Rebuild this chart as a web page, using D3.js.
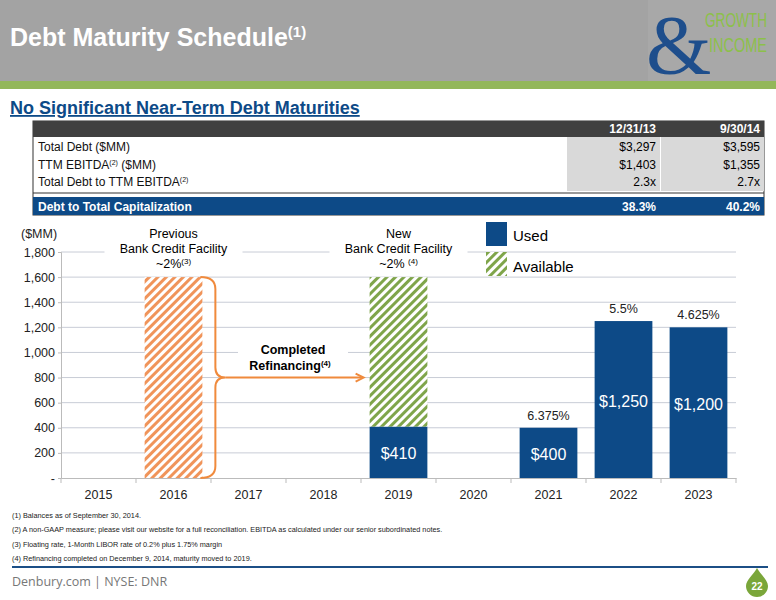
<!DOCTYPE html><html><head><meta charset="utf-8"><script src="https://d3js.org/d3.v7.min.js"></script>
<style>body{margin:0;background:#fff}svg{font-family:"Liberation Sans",Arial,sans-serif}</style></head><body>
<svg id="c" width="776" height="600"></svg>
<script>
const years=["2015","2016","2017","2018","2019","2020","2021","2022","2023"];
const used=[0,0,0,0,410,0,400,1250,1200];
const available=[0,0,0,0,1190,0,0,0,0];
const previousFacility=[0,1600,0,0,0,0,0,0,0];
const usedLabels=["","","","","$410","","$400","$1,250","$1,200"];
const rateLabels=["","","","","","","6.375%","5.5%","4.625%"];
const yTicks=[0,200,400,600,800,1000,1200,1400,1600,1800];
const tableHead=["","12/31/13","9/30/14"];
const tableRows=[["Total Debt ($MM)","$3,297","$3,595"],["TTM EBITDA|(2)| ($MM)","$1,403","$1,355"],["Total Debt to TTM EBITDA|(2)|","2.3x","2.7x"]];
const capRow=["Debt to Total Capitalization","38.3%","40.2%"];
const footnotes=["(1)  Balances as of September 30, 2014.","(2)  A non-GAAP measure; please visit our website for a full reconciliation.  EBITDA as calculated under our senior subordinated notes.","(3)  Floating rate, 1-Month LIBOR rate of 0.2% plus 1.75% margin","(4)  Refinancing completed on December 9, 2014, maturity moved to 2019."];

const svg=d3.select("#c");
const defs=svg.append("defs");
function hatch(id,col){const p=defs.append("pattern").attr("id",id).attr("patternUnits","userSpaceOnUse").attr("width",6).attr("height",6).attr("patternTransform","rotate(45)");
p.append("rect").attr("width",6).attr("height",6).attr("fill","#fff");p.append("rect").attr("width",3).attr("height",6).attr("fill",col);}
hatch("ho","#f0945a");hatch("hg","#7fa54a");
const blue="#0d4a87";
svg.append("rect").attr("width",776).attr("height",81).attr("fill","#a3a3a3");
svg.append("rect").attr("y",81).attr("width",776).attr("height",8).attr("fill","#93b75a");
const t=svg.append("text").attr("x",10).attr("y",46).attr("fill","#fff").attr("font-weight","bold").attr("font-size",25);
t.append("tspan").text("Debt Maturity Schedule");t.append("tspan").attr("dy",-9).attr("font-size",15).text("(1)");
svg.append("rect").attr("x",648).attr("y",0).attr("width",128).attr("height",81).attr("fill","#a8a8a8");
svg.append("text").attr("x",646).attr("y",74).attr("font-family","Liberation Serif,serif").attr("font-size",84).attr("fill","#1e4e8c").text("&");
svg.append("text").attr("x",0).attr("y",0).attr("font-size",13).attr("fill","#8cc04a").attr("textLength",62).attr("lengthAdjust","spacingAndGlyphs").attr("transform","translate(705,27) scale(1,1.5)").text("GROWTH");
svg.append("text").attr("x",0).attr("y",0).attr("font-size",13).attr("fill","#8cc04a").attr("textLength",58).attr("lengthAdjust","spacingAndGlyphs").attr("transform","translate(709,52) scale(1,1.5)").text("INCOME");
svg.append("text").attr("x",10).attr("y",114).attr("fill",blue).attr("font-weight","bold").attr("font-size",18).attr("text-decoration","underline").text("No Significant Near-Term Debt Maturities");
const tx=33,tw=731,c1=567,c2=661;
svg.append("rect").attr("x",tx).attr("y",121).attr("width",tw).attr("height",94).attr("fill","#fff").attr("stroke","#333");
svg.append("rect").attr("x",tx).attr("y",121).attr("width",tw).attr("height",16).attr("fill","#404040");
svg.append("rect").attr("x",c1).attr("y",137).attr("width",c2-c1-1).attr("height",54).attr("fill","#d9d9d9");
svg.append("rect").attr("x",c2).attr("y",137).attr("width",764-c2).attr("height",54).attr("fill","#d9d9d9");
svg.append("line").attr("x1",tx).attr("x2",764).attr("y1",193).attr("y2",193).attr("stroke","#333");
svg.append("rect").attr("x",tx).attr("y",197).attr("width",tw).attr("height",18).attr("fill",blue);
svg.append("text").attr("x",c2-5).attr("y",133).attr("text-anchor","end").attr("fill","#fff").attr("font-weight","bold").attr("font-size",12).text(tableHead[1]);
svg.append("text").attr("x",760).attr("y",133).attr("text-anchor","end").attr("fill","#fff").attr("font-weight","bold").attr("font-size",12).text(tableHead[2]);
tableRows.forEach((r,i)=>{const yy=151+i*17.5;
 const tt=svg.append("text").attr("x",38).attr("y",yy).attr("font-size",12).attr("fill","#111");
 r[0].split("|").forEach((s,j)=>{tt.append("tspan").attr("font-size",j==1?7:12).attr("dy",j==1?-4:(j==2?4:0)).text(s);});
 svg.append("text").attr("x",c2-5).attr("y",yy).attr("text-anchor","end").attr("font-size",12).text(r[1]);
 svg.append("text").attr("x",760).attr("y",yy).attr("text-anchor","end").attr("font-size",12).text(r[2]);});
svg.append("text").attr("x",38).attr("y",211).attr("fill","#fff").attr("font-weight","bold").attr("font-size",12).text(capRow[0]);
svg.append("text").attr("x",c2-5).attr("y",211).attr("text-anchor","end").attr("fill","#fff").attr("font-weight","bold").attr("font-size",12).text(capRow[1]);
svg.append("text").attr("x",760).attr("y",211).attr("text-anchor","end").attr("fill","#fff").attr("font-weight","bold").attr("font-size",12).text(capRow[2]);
const x=d3.scaleBand().domain(years).range([61,736]).paddingInner(0.23).paddingOuter(0.115);
const y=d3.scaleLinear().domain([0,1800]).range([478,252]);
const g=svg.append("g");
yTicks.forEach(v=>{if(v>0)g.append("line").attr("x1",61).attr("x2",736).attr("y1",y(v)).attr("y2",y(v)).attr("stroke","#c8ccd6");});
const ya=svg.append("g").attr("transform","translate(61,0)").call(d3.axisLeft(y).tickValues(yTicks).tickSize(3).tickFormat(v=>v===0?"-":d3.format(",")(v)));
ya.select(".domain").attr("stroke","#bbb");ya.selectAll("line").attr("stroke","#bbb");
ya.selectAll("text").attr("font-size",12.5).attr("fill","#222").attr("font-family","Liberation Sans,Arial");
const xa=svg.append("g").attr("transform","translate(0,478)").call(d3.axisBottom(x).tickSize(0).tickPadding(12));
xa.select(".domain").attr("stroke","#bbb");
xa.selectAll("text").attr("font-size",12.5).attr("fill","#222").attr("font-family","Liberation Sans,Arial");
const bnd=x.step();
years.forEach((yr,i)=>{svg.append("line").attr("x1",x(yr)-bnd*0.115).attr("x2",x(yr)-bnd*0.115).attr("y1",478).attr("y2",483).attr("stroke","#bbb");});
svg.append("line").attr("x1",736).attr("x2",736).attr("y1",478).attr("y2",483).attr("stroke","#bbb");
years.forEach((yr,i)=>{
 if(previousFacility[i])svg.append("rect").attr("x",x(yr)).attr("y",y(previousFacility[i])).attr("width",x.bandwidth()).attr("height",y(0)-y(previousFacility[i])).attr("fill","url(#ho)");
 if(used[i])svg.append("rect").attr("x",x(yr)).attr("y",y(used[i])).attr("width",x.bandwidth()).attr("height",y(0)-y(used[i])).attr("fill",blue);
 if(available[i])svg.append("rect").attr("x",x(yr)).attr("y",y(used[i]+available[i])).attr("width",x.bandwidth()).attr("height",y(used[i])-y(used[i]+available[i])).attr("fill","url(#hg)");
 const cx=x(yr)+x.bandwidth()/2;
 if(usedLabels[i])svg.append("text").attr("x",cx).attr("y",y(used[i]/2)+7).attr("text-anchor","middle").attr("fill","#fff").attr("font-size",16).text(usedLabels[i]);
 if(rateLabels[i])svg.append("text").attr("x",cx).attr("y",y(used[i])-8).attr("text-anchor","middle").attr("fill","#222").attr("font-size",12.5).text(rateLabels[i]);
});
svg.append("text").attr("x",21).attr("y",238).attr("font-size",12.5).attr("fill","#222").text("($MM)");
function ann(yr,lines,sup){const cx=x(yr)+x.bandwidth()/2;
 svg.append("text").attr("x",cx).attr("y",238).attr("text-anchor","middle").attr("font-size",12.5).text(lines[0]);
 const w=lines[1].length*6.6;svg.append("rect").attr("x",cx-w/2-3).attr("y",243).attr("width",w+6).attr("height",14).attr("fill","#fff");
 svg.append("text").attr("x",cx).attr("y",253).attr("text-anchor","middle").attr("font-size",12.5).text(lines[1]);
 const tx=svg.append("text").attr("x",cx).attr("y",268).attr("text-anchor","middle").attr("font-size",12.5);tx.append("tspan").text(lines[2]);tx.append("tspan").attr("dy",-4).attr("font-size",8).text(sup);}
ann("2016",["Previous","Bank Credit Facility","~2%"],"(3)");
ann("2019",["New","Bank Credit Facility","~2% "],"(4)");
const bx=x("2016")+x.bandwidth()-2,bTop=y(1600),bBot=y(0),mid=y(800),or="#f08a3c";
svg.append("path").attr("d",`M${bx},${bTop} Q${bx+15},${bTop} ${bx+15},${bTop+12} L${bx+15},${mid-10} Q${bx+15},${mid} ${bx+25},${mid} Q${bx+15},${mid} ${bx+15},${mid+10} L${bx+15},${bBot-12} Q${bx+15},${bBot} ${bx},${bBot}`).attr("fill","none").attr("stroke",or).attr("stroke-width",2);
svg.append("line").attr("x1",bx+25).attr("x2",x("2019")-8).attr("y1",mid).attr("y2",mid).attr("stroke",or).attr("stroke-width",2);
svg.append("path").attr("d",`M${x("2019")-14},${mid-4} L${x("2019")-6},${mid} L${x("2019")-14},${mid+4}`).attr("fill","none").attr("stroke",or).attr("stroke-width",2);
svg.append("rect").attr("x",238).attr("y",339).attr("width",110).attr("height",34).attr("fill","#fff");
svg.append("text").attr("x",293).attr("y",354).attr("text-anchor","middle").attr("font-weight","bold").attr("font-size",12.5).text("Completed");
const rt=svg.append("text").attr("x",290).attr("y",370).attr("text-anchor","middle").attr("font-weight","bold").attr("font-size",12.5);rt.append("tspan").text("Refinancing");rt.append("tspan").attr("dy",-4).attr("font-size",8).text("(4)");
svg.append("rect").attr("x",486).attr("y",222).attr("width",21).attr("height",24).attr("fill",blue);
svg.append("text").attr("x",513).attr("y",241).attr("font-size",15).text("Used");
svg.append("rect").attr("x",486).attr("y",252).attr("width",21).attr("height",24).attr("fill","url(#hg)");
svg.append("text").attr("x",513).attr("y",272).attr("font-size",15).text("Available");
footnotes.forEach((f,i)=>svg.append("text").attr("x",12).attr("y",518+i*14.3).attr("font-size",7.3).attr("fill","#222").text(f));
svg.append("rect").attr("x",12).attr("y",566).attr("width",756).attr("height",2).attr("fill","#1c4f86");
svg.append("text").attr("x",12).attr("y",586).attr("font-size",12.5).attr("fill","#777").attr("font-family","Open Sans,sans-serif").text("Denbury.com | NYSE: DNR");
svg.append("path").attr("d","M757,568 C754,574 746,580 746,586 A11,11 0 0 0 768,586 C768,580 760,574 757,568Z").attr("fill","#7aa63a");
svg.append("text").attr("x",757).attr("y",590).attr("text-anchor","middle").attr("fill","#fff").attr("font-weight","bold").attr("font-size",10).text("22");
</script></body></html>
